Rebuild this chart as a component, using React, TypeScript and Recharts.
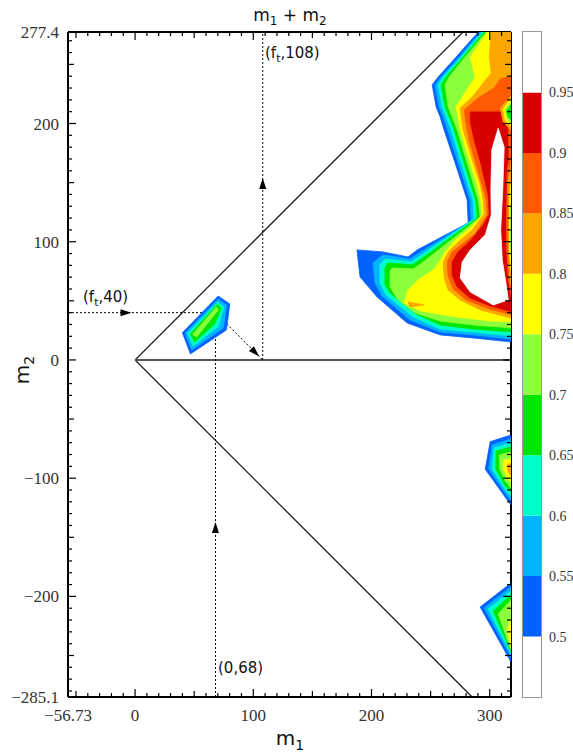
import React from "react";
import {
  ScatterChart,
  Scatter,
  XAxis,
  YAxis,
  ReferenceLine,
  BarChart,
  Bar,
} from "recharts";

type Vertex = [number, number];
type Layer = { level: number; points: Vertex[] };

// contour levels and their fill colours (last one = above top level)
const LEVELS = [0.5, 0.55, 0.6, 0.65, 0.7, 0.75, 0.8, 0.85, 0.9, 0.95];
const LEVEL_COLORS = [
  "#0062ff",
  "#00b4ff",
  "#00ffc8",
  "#00e600",
  "#8cff3c",
  "#ffff00",
  "#ffa500",
  "#ff5a00",
  "#d90000",
  "#ffffff",
];

const X_DOMAIN: [number, number] = [-56.73, 318];
const Y_DOMAIN: [number, number] = [-285.1, 277.4];
const X_LABELS = [-56.73, 0, 100, 200, 300];
const Y_LABELS = [-285.1, -200, -100, 0, 100, 200, 277.4];
const COLORBAR_RANGE: [number, number] = [0.45, 1.0];

// small island near (60, 30)
const islandA: Layer[] = [
  { level: 0.5, points: [[70.3, 54.1], [80.1, 47.4], [77.3, 25.4], [46.8, 5.1], [40.0, 23.1]] },
  { level: 0.55, points: [[70.4, 51.6], [77.5, 46.1], [74.6, 27.1], [47.9, 8.5], [42.4, 22.8]] },
  { level: 0.6, points: [[70.0, 49.1], [75.0, 44.8], [70.8, 28.8], [49.2, 11.8], [44.5, 22.4]] },
  { level: 0.65, points: [[69.6, 47.0], [73.0, 43.6], [67.4, 30.5], [50.4, 15.2], [46.6, 22.0]] },
  { level: 0.7, points: [[68.7, 44.8], [70.3, 42.3], [62.3, 32.1], [52.1, 19.5], [48.7, 21.6]] },
];

// island on the right edge around m2 = -90
const islandB: Layer[] = [
  { level: 0.5, points: [[300.4, -69.1], [318, -63.5], [318, -122.7], [315.9, -119.9], [296.2, -92.5]] },
  { level: 0.55, points: [[302.1, -71.9], [318, -66.8], [318, -118.4], [314.8, -115.1], [299.2, -92.2]] },
  { level: 0.6, points: [[303.8, -74.4], [318, -70.2], [318, -115.1], [314.0, -110.8], [302.1, -92.2]] },
  { level: 0.65, points: [[305.5, -77.0], [318, -73.6], [318, -111.7], [313.1, -106.6], [305.1, -92.2]] },
  { level: 0.7, points: [[308.1, -80.4], [318, -77.8], [318, -108.3], [313.1, -102.4], [308.5, -92.2]] },
  { level: 0.75, points: [[311.4, -84.6], [318, -83.8], [318, -103.2], [314.0, -98.1], [311.4, -92.2]] },
  { level: 0.8, points: [[314.8, -88.8], [318, -87.1], [318, -98.1], [315.7, -94.8]] },
];

// island on the right edge around m2 = -220
const islandC: Layer[] = [
  { level: 0.5, points: [[318, -188.7], [291.9, -209.0], [318, -255.5]] },
  { level: 0.55, points: [[318, -192.0], [295.3, -209.8], [318, -251.3]] },
  { level: 0.6, points: [[318, -195.4], [298.7, -210.7], [318, -248.7]] },
  { level: 0.65, points: [[318, -198.8], [303.0, -212.4], [318, -247.0]] },
  { level: 0.7, points: [[318, -203.0], [307.2, -214.9], [318, -245.3]] },
  { level: 0.75, points: [[318, -218.3], [314.8, -228.4], [318, -243.7]] },
];

// large region in the upper right
const mainRegion: Layer[] = [
  {
    level: 0.5,
    points: [[290.3, 277.4], [271.6, 256.3], [256.4, 239.4], [251.3, 232.7], [254.7, 214.0], [258.1, 205.6], [261.4, 194.6], [269.9, 169.2], [280.9, 135.4], [281.8, 115.9], [238.6, 93.1], [230.9, 87.1], [209.7, 91.4], [187.7, 93.1], [190.3, 70.2], [204.7, 53.3], [230.1, 31.3], [258.1, 21.2], [286.0, 18.6], [318, 15.2], [318, 277.4]],
  },
  {
    level: 0.55,
    points: [[292.0, 277.4], [274.2, 256.3], [258.9, 239.4], [253.8, 232.7], [257.2, 214.0], [260.6, 205.6], [264.4, 194.6], [272.5, 169.2], [283.5, 135.4], [284.3, 117.6], [240.3, 90.5], [232.6, 85.4], [209.7, 88.8], [201.3, 82.1], [203.0, 65.1], [208.9, 54.1], [232.6, 33.8], [258.1, 23.7], [286.0, 21.2], [318, 17.8], [318, 277.4]],
  },
  {
    level: 0.6,
    points: [[293.6, 277.4], [275.8, 256.3], [260.6, 239.4], [256.4, 232.7], [259.7, 214.0], [263.1, 205.6], [267.4, 194.6], [275.0, 169.2], [286.0, 135.4], [286.9, 119.3], [241.1, 88.0], [233.5, 82.9], [211.4, 85.4], [207.2, 80.4], [207.2, 65.1], [212.3, 55.0], [235.2, 36.4], [258.1, 26.2], [286.0, 23.7], [318, 20.3], [318, 277.4]],
  },
  {
    level: 0.65,
    points: [[295.3, 277.4], [277.5, 256.3], [263.1, 239.4], [258.9, 232.7], [262.3, 214.0], [265.7, 205.6], [269.9, 194.6], [277.5, 169.2], [288.1, 135.4], [289.4, 120.1], [241.9, 85.4], [234.3, 80.4], [214.0, 82.1], [211.4, 77.8], [211.4, 63.5], [215.7, 56.7], [237.7, 38.9], [258.1, 29.6], [286.0, 26.2], [318, 23.7], [318, 277.4]],
  },
  {
    level: 0.7,
    points: [[297.0, 277.4], [279.2, 256.3], [265.7, 239.4], [262.3, 232.7], [264.8, 214.0], [268.2, 205.6], [272.5, 194.6], [280.1, 169.2], [290.3, 135.4], [292.0, 120.9], [242.8, 82.1], [235.2, 77.0], [217.4, 77.8], [215.7, 75.3], [215.7, 61.8], [222.5, 50.8], [236.9, 39.8], [258.1, 33.0], [286.0, 29.6], [318, 27.1], [318, 277.4]],
  },
  { level: 0.65, points: [[247.9, 71.1], [252.1, 74.4], [258.9, 72.8], [256.4, 67.7], [249.6, 67.7]] },
  {
    level: 0.75,
    points: [[298.3, 277.4], [283.5, 256.3], [287.7, 239.4], [271.6, 214.0], [275.0, 194.6], [282.6, 169.2], [289.4, 148.1], [292.4, 135.4], [293.6, 122.7], [283.5, 111.7], [270.8, 101.5], [262.3, 91.4], [258.1, 83.8], [252.1, 76.1], [239.4, 67.7], [230.9, 59.2], [227.5, 48.2], [241.1, 41.5], [271.6, 36.4], [300.4, 33.0], [318, 32.1], [318, 277.4]],
  },
  { level: 0.8, points: [[230.9, 49.1], [244.5, 46.5], [232.6, 44.8]] },
  {
    level: 0.8,
    points: [[301.3, 277.4], [299.6, 256.3], [301.3, 242.8], [285.2, 222.5], [275.0, 213.2], [277.5, 194.6], [285.2, 169.2], [292.0, 148.1], [294.5, 135.4], [295.3, 123.5], [285.2, 110.0], [273.3, 99.8], [264.8, 91.4], [260.6, 82.9], [261.4, 69.4], [264.8, 59.2], [275.0, 50.8], [292.0, 42.3], [318, 35.5], [318, 277.4]],
  },
  {
    level: 0.85,
    points: [[278.4, 211.5], [290.3, 221.7], [303.8, 230.1], [308.9, 237.7], [318, 240.3], [318, 38.5], [299.6, 43.1], [280.1, 50.8], [269.1, 60.1], [264.8, 71.1], [264.0, 82.9], [268.2, 91.4], [276.7, 98.1], [287.7, 106.6], [297.9, 122.7], [297.0, 135.4], [288.6, 165.0], [282.6, 186.1], [280.1, 198.8]],
  },
  {
    level: 0.9,
    points: [[283.5, 209.8], [300.4, 209.8], [312.0, 209.8], [315.0, 204.7], [315.7, 169.2], [315.7, 110.0], [316.5, 59.2], [318, 52.5], [318, 41.0], [300.4, 45.7], [283.5, 52.5], [272.5, 61.8], [268.2, 71.9], [268.2, 82.9], [273.3, 91.4], [283.5, 100.7], [294.5, 114.2], [299.6, 123.5], [298.7, 139.6], [292.8, 165.0], [286.9, 186.1], [283.5, 201.4]],
  },
  {
    level: 0.95,
    points: [[307.2, 196.0], [312.2, 180.0], [311.0, 143.8], [309.3, 110.0], [310.6, 84.6], [314.0, 63.5], [315.7, 50.8], [303.0, 46.5], [283.5, 57.5], [275.0, 69.4], [276.7, 82.9], [283.5, 93.1], [296.2, 105.8], [301.3, 122.7], [301.0, 143.8], [301.8, 178.0]],
  },
  // dips against the right edge
  { level: 0.8, points: [[318, 223.4], [308.9, 213.2], [311.4, 201.4], [318, 194.6]] },
  { level: 0.75, points: [[318, 220.8], [311.4, 212.4], [313.1, 203.0], [318, 198.0]] },
  { level: 0.7, points: [[318, 218.3], [313.1, 211.5], [314.8, 203.9], [318, 200.5]] },
  { level: 0.65, points: [[318, 215.7], [314.4, 210.7], [315.7, 205.6], [318, 203.0]] },
  { level: 0.85, points: [[318, 177.7], [314.8, 160.7], [314.0, 101.5], [315.7, 67.7], [318, 57.5]] },
  { level: 0.8, points: [[318, 165.0], [315.7, 152.3], [315.7, 101.5], [316.9, 71.9], [318, 63.5]] },
  { level: 0.75, points: [[318, 148.1], [316.9, 135.4], [316.9, 88.8], [318, 76.1]] },
  { level: 0.7, points: [[318, 131.1], [317.6, 118.4], [317.6, 97.3], [318, 88.8]] },
];

const CONTOUR_LAYERS: Layer[] = [...islandA, ...islandB, ...islandC, ...mainRegion];

// guide lines (data coordinates)
const WEDGE_LINES: Vertex[][] = [
  [[0, 0], [277.4, 277.4]],
  [[0, 0], [285.1, -285.1]],
];
const BASE_LINE: Vertex[] = [[0, 0], [318, 0]];
const DOTTED_GUIDES: Vertex[][] = [
  [[-56.73, 40], [68, 40]],
  [[68, -285.1], [68, 40]],
  [[68, 40], [108, 0]],
  [[108, 0], [108, 277.4]],
];
const ARROW_HEADS = [
  { x: -3, y: 40, angle: 0 },
  { x: 68, y: -137, angle: -90 },
  { x: 105, y: 3, angle: 45 },
  { x: 108, y: 154, angle: -90 },
];

const X_TICKS = [-56.73, ...Array.from({ length: 37 }, (_, i) => -50 + i * 10)];
const Y_TICKS = [-285.1, ...Array.from({ length: 56 }, (_, i) => -280 + i * 10), 277.4];

const colorOf = (level: number) => LEVEL_COLORS[LEVELS.indexOf(level)];

const ring = (pts: Vertex[]) =>
  [...pts, pts[0]].map(([x, y]) => ({ x, y }));

const tickLen = (v: number) => {
  if (!Number.isInteger(v)) return 0;
  if (v % 100 === 0) return 8;
  if (v % 50 === 0) return 6;
  return 4;
};

const fmt = (v: number) => (v < 0 ? "\u2212" + Math.abs(v) : String(v));

const TICK_FONT = {
  fontFamily: "'Liberation Serif', 'Times New Roman', serif",
  fontSize: 17,
  fill: "#333",
};

const NoMarker = () => <g />;

function ArrowHead(props: any) {
  const { cx, cy, payload } = props;
  return (
    <polygon
      points="0,0 -11,-3.5 -11,3.5"
      transform={`translate(${cx},${cy}) rotate(${payload.angle})`}
      fill="#000"
    />
  );
}

function BottomTick(props: any) {
  const { x, y, payload } = props;
  const v = payload.value;
  const len = tickLen(v);
  return (
    <g>
      {len > 0 && <line x1={x} y1={y} x2={x} y2={y - len} stroke="#000" strokeWidth={1.2} />}
      {X_LABELS.includes(v) && (
        <text x={x} y={y + 24} textAnchor="middle" {...TICK_FONT}>
          {fmt(v)}
        </text>
      )}
    </g>
  );
}

function TopTick(props: any) {
  const { x, y, payload } = props;
  const len = tickLen(payload.value);
  return len > 0 ? <line x1={x} y1={y} x2={x} y2={y + len} stroke="#000" strokeWidth={1.2} /> : <g />;
}

function LeftTick(props: any) {
  const { x, y, payload } = props;
  const v = payload.value;
  const len = tickLen(v);
  return (
    <g>
      {len > 0 && <line x1={x} y1={y} x2={x + len} y2={y} stroke="#000" strokeWidth={1.2} />}
      {Y_LABELS.includes(v) && (
        <text x={x - 9} y={y + 6} textAnchor="end" {...TICK_FONT}>
          {fmt(v)}
        </text>
      )}
    </g>
  );
}

function RightTick(props: any) {
  const { x, y, payload } = props;
  const len = tickLen(payload.value);
  return len > 0 ? <line x1={x} y1={y} x2={x - len} y2={y} stroke="#000" strokeWidth={1.2} /> : <g />;
}

const frameLine = { stroke: "#000", strokeWidth: 2 };

// stacked segments for the colour bar: white below 0.5, the bands, white above 0.95
const colorbarRow: Record<string, number | string> = { name: "bar", s0: LEVELS[0] };
LEVELS.forEach((lv, i) => {
  colorbarRow[`s${i + 1}`] = +((LEVELS[i + 1] ?? COLORBAR_RANGE[1]) - lv).toFixed(2);
});
const colorbarFills = ["#ffffff", ...LEVEL_COLORS];

const labelFont: React.CSSProperties = {
  position: "absolute",
  fontFamily: "'DejaVu Sans', sans-serif",
  color: "#111",
  whiteSpace: "nowrap",
  lineHeight: 1,
};
const subStyle = (size: number): React.CSSProperties => ({ fontSize: size, lineHeight: 0 });

export default function App() {
  return (
    <div style={{ position: "absolute", left: 0, top: 0, width: 573, height: 753, background: "#fff" }}>
      <div style={{ position: "absolute", left: 0, top: 0 }}>
        <ScatterChart width={520} height={753} margin={{ top: 31, right: 8, bottom: 55, left: 67 }}>
          <XAxis
            xAxisId="b"
            dataKey="x"
            type="number"
            domain={X_DOMAIN}
            allowDataOverflow
            ticks={X_TICKS}
            interval={0}
            height={1}
            tickSize={0}
            tickMargin={0}
            tickLine={false}
            axisLine={frameLine}
            tick={BottomTick}
          />
          <XAxis
            xAxisId="t"
            orientation="top"
            dataKey="x"
            type="number"
            domain={X_DOMAIN}
            allowDataOverflow
            ticks={X_TICKS}
            interval={0}
            height={1}
            tickSize={0}
            tickMargin={0}
            tickLine={false}
            axisLine={frameLine}
            tick={TopTick}
          />
          <YAxis
            yAxisId="l"
            dataKey="y"
            type="number"
            domain={Y_DOMAIN}
            allowDataOverflow
            ticks={Y_TICKS}
            interval={0}
            width={1}
            tickSize={0}
            tickMargin={0}
            tickLine={false}
            axisLine={frameLine}
            tick={LeftTick}
          />
          <YAxis
            yAxisId="r"
            orientation="right"
            dataKey="y"
            type="number"
            domain={Y_DOMAIN}
            allowDataOverflow
            ticks={Y_TICKS}
            interval={0}
            width={1}
            tickSize={0}
            tickMargin={0}
            tickLine={false}
            axisLine={frameLine}
            tick={RightTick}
          />

          {CONTOUR_LAYERS.map((layer, i) => (
            <Scatter
              key={`layer-${i}`}
              xAxisId="b"
              yAxisId="l"
              data={ring(layer.points)}
              shape={NoMarker}
              line={{ fill: colorOf(layer.level), stroke: colorOf(layer.level), strokeWidth: 0.8 }}
              lineJointType="linear"
              legendType="none"
              isAnimationActive={false}
            />
          ))}

          {WEDGE_LINES.map((seg, i) => (
            <ReferenceLine
              key={`wedge-${i}`}
              xAxisId="b"
              yAxisId="l"
              segment={seg.map(([x, y]) => ({ x, y }))}
              stroke="#222"
              strokeWidth={1.3}
              ifOverflow="visible"
            />
          ))}
          <ReferenceLine
            xAxisId="b"
            yAxisId="l"
            segment={BASE_LINE.map(([x, y]) => ({ x, y }))}
            stroke="#555"
            strokeWidth={2}
            ifOverflow="visible"
          />
          {DOTTED_GUIDES.map((seg, i) => (
            <ReferenceLine
              key={`guide-${i}`}
              xAxisId="b"
              yAxisId="l"
              segment={seg.map(([x, y]) => ({ x, y }))}
              stroke="#000"
              strokeWidth={1}
              strokeDasharray="2 2"
              ifOverflow="visible"
            />
          ))}
          <Scatter
            xAxisId="b"
            yAxisId="l"
            data={ARROW_HEADS}
            shape={ArrowHead}
            legendType="none"
            isAnimationActive={false}
          />
        </ScatterChart>
      </div>

      {/* colour bar */}
      <div style={{ position: "absolute", left: 515, top: 0 }}>
        <BarChart
          width={58}
          height={753}
          data={[colorbarRow]}
          margin={{ top: 32, right: 0, bottom: 56, left: 8 }}
          barCategoryGap={0}
        >
          <XAxis dataKey="name" hide />
          <YAxis
            orientation="right"
            type="number"
            domain={COLORBAR_RANGE}
            allowDataOverflow
            ticks={LEVELS}
            interval={0}
            width={32}
            tickLine={false}
            axisLine={false}
            tickMargin={2}
            tick={{ fontFamily: "'Liberation Serif', serif", fontSize: 14, fill: "#333" }}
          />
          {colorbarFills.map((fill, i) => (
            <Bar key={`seg-${i}`} dataKey={`s${i}`} stackId="cb" fill={fill} isAnimationActive={false} />
          ))}
        </BarChart>
      </div>
      <div
        style={{
          position: "absolute",
          left: 522,
          top: 31,
          width: 18,
          height: 665,
          border: "1px solid #999",
        }}
      />

      {/* titles and annotations */}
      <div style={{ ...labelFont, left: 290, top: 7, fontSize: 17, transform: "translateX(-50%)" }}>
        m<sub style={subStyle(12)}>1</sub> + m<sub style={subStyle(12)}>2</sub>
      </div>
      <div style={{ ...labelFont, left: 290, top: 728, fontSize: 20, transform: "translateX(-50%)" }}>
        m<sub style={subStyle(14)}>1</sub>
      </div>
      <div
        style={{
          ...labelFont,
          left: 22,
          top: 370,
          fontSize: 20,
          transform: "translate(-50%, -50%) rotate(-90deg)",
        }}
      >
        m<sub style={subStyle(14)}>2</sub>
      </div>
      <div style={{ ...labelFont, left: 265, top: 46, fontSize: 15 }}>
        (f<sub style={subStyle(11)}>t</sub>,108)
      </div>
      <div style={{ ...labelFont, left: 83, top: 290, fontSize: 15 }}>
        (f<sub style={subStyle(11)}>t</sub>,40)
      </div>
      <div style={{ ...labelFont, left: 218, top: 661, fontSize: 15 }}>(0,68)</div>
    </div>
  );
}
